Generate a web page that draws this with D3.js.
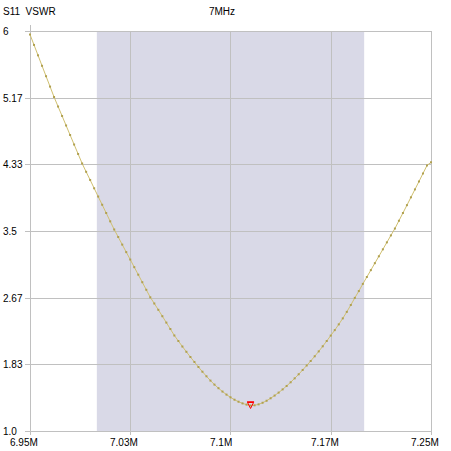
<!DOCTYPE html>
<html>
<head>
<meta charset="utf-8">
<script src="https://cdn.jsdelivr.net/npm/d3@7"></script>
<style>
html,body{margin:0;padding:0;background:#fff;}
svg{display:block;}
text{font-family:"Liberation Sans",Arial,sans-serif;font-size:10px;fill:#000;}
</style>
</head>
<body>
<svg id="chart" width="451" height="451"></svg>
<script>
// ---- data ----
const freqMHz = [
6.950,6.953,6.956,6.959,6.962,6.965,6.968,6.971,6.974,6.977,
6.980,6.983,6.986,6.989,6.992,6.995,6.998,7.001,7.004,7.007,
7.010,7.013,7.016,7.019,7.022,7.025,7.028,7.031,7.034,7.037,
7.040,7.043,7.046,7.049,7.052,7.055,7.058,7.061,7.064,7.067,
7.070,7.073,7.076,7.079,7.082,7.085,7.088,7.091,7.094,7.097,
7.100,7.103,7.106,7.109,7.112,7.115,7.118,7.121,7.124,7.127,
7.130,7.133,7.136,7.139,7.142,7.145,7.148,7.151,7.154,7.157,
7.160,7.163,7.166,7.169,7.172,7.175,7.178,7.181,7.184,7.187,
7.190,7.193,7.196,7.199,7.202,7.205,7.208,7.211,7.214,7.217,
7.220,7.223,7.226,7.229,7.232,7.235,7.238,7.241,7.244,7.247,
7.250];
const vswr = [
5.956,5.826,5.696,5.565,5.435,5.305,5.175,5.056,4.938,4.819,
4.700,4.581,4.463,4.344,4.240,4.138,4.034,3.931,3.828,3.725,
3.621,3.519,3.425,3.330,3.236,3.143,3.048,2.954,2.860,2.765,
2.671,2.594,2.515,2.435,2.355,2.275,2.194,2.125,2.056,1.990,
1.925,1.863,1.800,1.741,1.684,1.630,1.580,1.535,1.493,1.455,
1.421,1.391,1.366,1.345,1.330,1.319,1.321,1.333,1.353,1.378,
1.409,1.443,1.480,1.520,1.563,1.609,1.658,1.709,1.763,1.819,
1.875,1.934,1.995,2.059,2.125,2.193,2.261,2.333,2.408,2.489,
2.575,2.664,2.749,2.839,2.925,3.011,3.098,3.184,3.271,3.358,
3.445,3.531,3.628,3.725,3.823,3.921,4.020,4.119,4.219,4.319,
4.359];
const xTicks = [6.95, 7.025, 7.1, 7.175, 7.25];
const xTickLabels = ["6.95M","7.03M","7.1M","7.17M","7.25M"];
const yTicks = [1.0, 1.8333, 2.6667, 3.5, 4.3333, 5.1667, 6.0];
const yTickLabels = ["1.0","1.83","2.67","3.5","4.33","5.17","6"];
const band = [7.0, 7.2];
const titleLeft = "S11  VSWR";
const titleCenter = "7MHz";

// ---- layout ----
const L = 30, R = 431, T = 31, B = 431;
const svg = d3.select("#chart");
const x = d3.scaleLinear().domain([6.95, 7.25]).range([L, R]);
const y = d3.scaleLinear().domain([1, 6]).range([B, T]);
const grid = "#c0c0c0";

// band
svg.append("rect")
  .attr("x", x(band[0])).attr("y", T)
  .attr("width", x(band[1]) - x(band[0])).attr("height", B - T)
  .attr("fill", "#d9d9e7");

// horizontal grid (y axis)
const yAxis = d3.axisLeft(y).tickValues(yTicks).tickSize(-(R - L) - 5).tickFormat("");
const gy = svg.append("g").attr("transform", `translate(${R},0)`).call(yAxis);
gy.select(".domain").remove();
gy.selectAll(".tick line").attr("stroke", grid).attr("shape-rendering", "crispEdges")
  .attr("x1", 0).attr("x2", -(R - L) - 5);
gy.selectAll(".tick").attr("transform", d => `translate(0,${Math.round(y(d)) + 0.5})`);

// vertical grid (x axis)
const xAxis = d3.axisBottom(x).tickValues(xTicks).tickSize(0).tickFormat("");
const gx = svg.append("g").call(xAxis);
gx.select(".domain").remove();
gx.selectAll(".tick").attr("transform", d => `translate(${Math.round(x(d)) + 0.5},0)`);
gx.selectAll(".tick line").attr("stroke", grid).attr("shape-rendering", "crispEdges")
  .attr("y1", (d, i) => i === 0 ? T - 6 : T).attr("y2", B + 4);

// labels
svg.append("text").attr("x", 3).attr("y", 15).attr("xml:space", "preserve").text(titleLeft);
svg.append("text").attr("x", 222).attr("y", 15).attr("text-anchor", "middle").text(titleCenter);
svg.selectAll(".ylab").data(yTicks).enter().append("text")
  .attr("class", "ylab").attr("x", 3).attr("y", d => Math.round(y(d)) + 4)
  .text((d, i) => yTickLabels[i]);
svg.selectAll(".xlab").data(xTicks).enter().append("text")
  .attr("class", "xlab").attr("x", d => Math.round(x(d)) - 20).attr("y", 446)
  .text((d, i) => xTickLabels[i]);

// curve
const pts = freqMHz.map((f, i) => [x(f), y(vswr[i])]);
svg.append("path").datum(pts)
  .attr("d", d3.line())
  .attr("fill", "none").attr("stroke", "#d0c070").attr("stroke-width", 1);
svg.selectAll(".dot").data(pts).enter().append("rect")
  .attr("class", "dot")
  .attr("x", d => d[0] - 1).attr("y", d => d[1] - 1)
  .attr("width", 2).attr("height", 2).attr("fill", "#b0a050");

// minimum marker
const iMin = d3.minIndex(vswr);
const mx = x(freqMHz[iMin]), my = y(vswr[iMin]);
svg.append("path")
  .attr("d", `M${mx - 3},${my - 3}L${mx + 3},${my - 3}L${mx},${my + 3}Z`)
  .attr("fill", "none").attr("stroke", "#ff0000").attr("stroke-width", 1);
svg.append("line")
  .attr("x1", mx - 3.5).attr("x2", mx + 3.5).attr("y1", my - 3.5).attr("y2", my - 3.5)
  .attr("stroke", "#ff0000").attr("stroke-width", 1.5);
</script>
</body>
</html>
